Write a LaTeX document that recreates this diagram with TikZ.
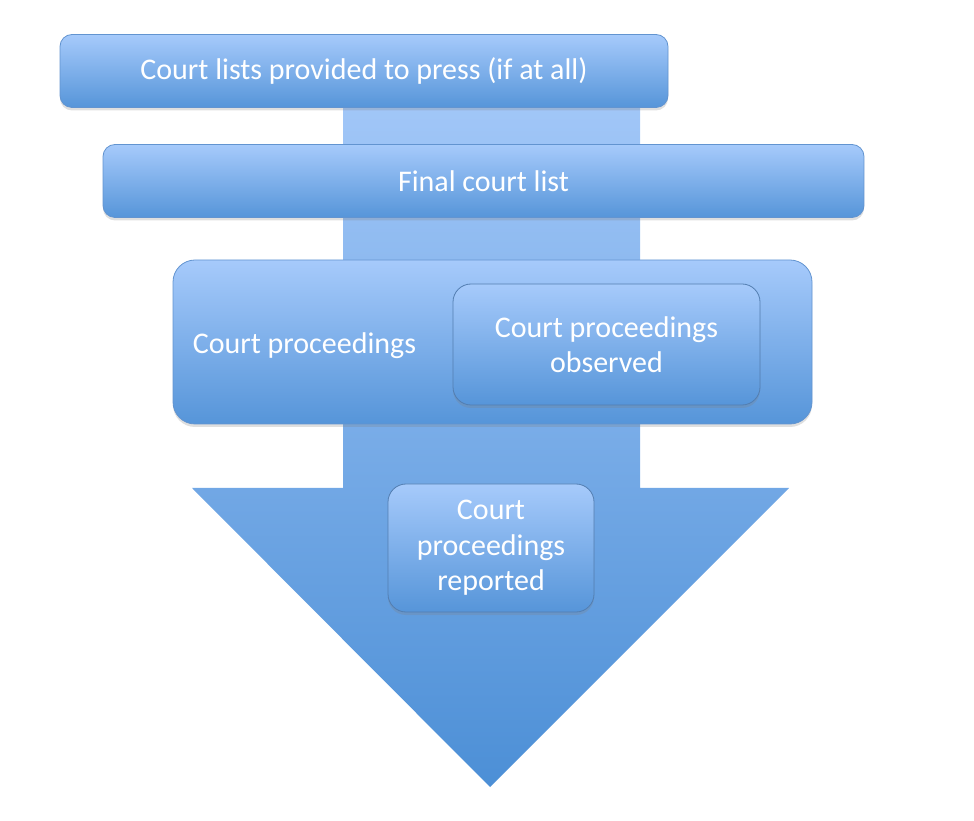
\documentclass[tikz,border=0pt]{standalone}
\usepackage{fontspec}
\setmainfont{Carlito}
\usepackage{tikz}
\usetikzlibrary{shadows, positioning}

\definecolor{boxtop}{RGB}{166,202,251}
\definecolor{boxbot}{RGB}{86,149,217}
\definecolor{boxline}{RGB}{98,148,208}
\definecolor{arrowtop}{RGB}{162,199,248}
\definecolor{arrowbot}{RGB}{76,143,214}

\begin{document}
\begin{tikzpicture}[x=1pt,y=1pt,
    stagebox/.style={draw=boxline, line width=0.8pt, top color=boxtop, bottom color=boxbot,
        rounded corners=12pt, inner sep=0pt, text=white, align=center,
        font=\fontsize{30}{35.5}\selectfont,
        drop shadow={opacity=0.25, shadow xshift=0pt, shadow yshift=-3pt}},
    innerbox/.style={stagebox, draw=boxline!85!black, rounded corners=18pt},
    stagetext/.style={text=white, inner sep=0pt, font=\fontsize{30}{35.5}\selectfont}]

        \useasboundingbox (0,0) rectangle (974,820);

        % Mũi tên lớn phía sau
        \shade[top color=arrowtop, bottom color=arrowbot]
            (343,720) -- (640,720) -- (640,332) -- (789,332) -- (490,33)
            -- (192,332) -- (343,332) -- cycle;

        % Các bước
        \node[stagebox, minimum width=608pt, minimum height=73pt] (pressList) at (364,749)
            {Court lists provided to press (if at all)};
        \node[stagebox, minimum width=761pt, minimum height=73pt] (finalList) at (483.5,639)
            {Final court list};
        \node[stagebox, rounded corners=22pt, minimum width=639pt, minimum height=164pt]
            (proceedings) at (492.5,478) {};
        \node[stagetext, anchor=west] (proceedingsText) at ([xshift=20pt,yshift=-4pt]proceedings.west)
            {Court proceedings};

        % Các ô bên trong
        \node[innerbox, minimum width=307pt, minimum height=121pt] (observed) at (606.5,475.5)
            {Court proceedings\\observed};
        \node[innerbox, minimum width=206pt, minimum height=128pt] (reported) at (491,272)
            {Court\\proceedings\\reported};

\end{tikzpicture}
\end{document}
